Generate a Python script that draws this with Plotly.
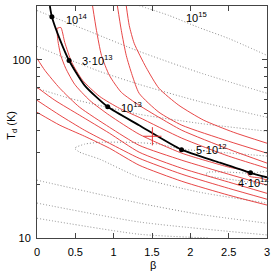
import numpy as np
import plotly.graph_objects as go

# ---- black best-fit curve (beta, T) ----
blk_b = [0.168, 0.194, 0.298, 0.418, 0.621, 0.922, 1.332, 1.885, 2.367, 2.785, 3.0]
blk_T = [200, 174, 130, 99, 71.8, 54.4, 42.9, 31.3, 26.6, 23.2, 21.9]

# labelled points on black curve
pt_b = [0.194, 0.418, 0.922, 1.885, 2.785]
pt_T = [174, 99, 54.4, 31.3, 23.2]

# best fit cross
best_b = [1.505]
best_T = [37.2]

# ---- red contours ----
ra_b = [1.164, 1.203, 1.268, 1.423, 1.591, 1.850, 2.173, 2.561, 3.0]
ra_T = [201, 155.6, 123.4, 90.5, 69.1, 55.5, 45.8, 39.2, 34.0]
rb_b = [1.048, 1.100, 1.164, 1.242, 1.332, 1.591, 1.889, 2.497, 3.0]
rb_T = [201, 145.8, 105.7, 81.7, 64.8, 50.7, 42.9, 34.9, 29.9]
rc_b = [0.724, 0.776, 0.841, 0.944, 1.100, 1.332, 1.591, 1.889, 2.497, 3.0]
rc_T = [201, 145.8, 105.7, 81.7, 65.6, 55.5, 47.5, 40.2, 31.5, 26.3]
rd_b = [0.259, 0.310, 0.362, 0.453, 0.595, 0.815, 1.074, 1.332, 1.889, 2.497, 2.911, 3.0]
rd_T = [149.7, 151.6, 125.0, 96.6, 76.6, 62.3, 53.4, 47.5, 36.3, 28.8, 25.3, 24.6]
re_b = [0.259, 0.272, 0.310, 0.375, 0.492, 0.686, 0.944, 1.332, 1.889, 2.497, 2.730, 2.769, 2.911, 3.0]
re_T = [149.7, 128.2, 105.7, 89.4, 72.7, 59.2, 48.8, 38.2, 29.9, 25.0, 23.7, 22.2, 21.7, 21.1]
rf_b = [0, 0.103, 0.298, 0.556, 0.944, 1.332, 1.889, 2.497, 3.0]
rf_T = [101.7, 87.1, 69.1, 54.1, 41.8, 33.1, 27.3, 22.8, 19.8]
rg_b = [0, 0.233, 0.556, 0.944, 1.332, 1.889, 2.497, 3.0]
rg_T = [70.0, 59.2, 48.8, 38.7, 30.3, 24.6, 20.6, 17.8]
rh_b = [0, 0.298, 0.621, 0.944, 1.332, 1.889, 2.497, 3.0]
rh_T = [59.2, 48.8, 40.2, 34.0, 28.0, 22.8, 19.0, 16.5]
ri_b = [0, 0.298, 0.621, 0.944, 1.332, 1.889, 2.497, 3.0]
ri_T = [50.7, 42.9, 37.2, 31.9, 25.6, 20.8, 17.4, 15.3]

# ---- gray dotted contours ----
g15_b = [1.332, 1.721, 2.109, 2.497, 3.0]
g15_T = [201, 177, 151.6, 131.6, 105.7]
g14_b = [0, 0.194, 0.686, 1.332, 2.109, 3.0]
g14_T = [188.7, 174.7, 144.0, 111.3, 84.9, 64.8]
g3e13_b = [0, 0.414, 0.815, 1.332, 2.109, 3.0]
g3e13_T = [118.7, 100.4, 86.0, 72.7, 58.4, 47.5]
g1e13_b = [0, 0.427, 0.918, 1.332, 2.109, 3.0]
g1e13_T = [69.1, 60.7, 54.1, 49.4, 44.0, 39.7]
g5e12_b = [3.0, 2.367, 1.889, 1.591, 1.203, 0.815, 0.621, 0.492, 0.556, 0.815, 1.332, 2.109, 3.0]
g5e12_T = [28.8, 30.3, 31.5, 33.6, 34.4, 34.4, 33.6, 31.9, 30.3, 27.7, 21.9, 18.1, 15.7]
g4e12_b = [3.0, 2.781, 2.497, 2.238, 2.199, 2.238, 2.329, 2.691, 3.0]
g4e12_T = [23.7, 23.1, 23.4, 23.4, 22.8, 22.2, 21.9, 20.8, 19.8]
gl1_b = [0, 1.332, 2.109, 3.0]
gl1_T = [21.1, 15.7, 13.6, 12.1]
gl2_b = [0, 1.332, 3.0]
gl2_T = [15.7, 12.3, 10.4]
gl3_b = [0, 1.332, 2.238]
gl3_T = [12.9, 10.5, 10.0]

# ---- labels ----
lab_text = ["10<sup>15</sup>", "10<sup>14</sup>", "3·10<sup>13</sup>", "10<sup>13</sup>",
            "5·10<sup>12</sup>", "4·10<sup>12</sup>"]
lab_b = [1.915, 0.35, 0.556, 1.074, 2.044, 2.60]
lab_T = [172.5, 170, 99, 54.1, 31.5, 20.6]

RED = "rgb(228,50,50)"
GRAY = "rgb(140,140,140)"

fig = go.Figure()

for bx, ty in [(g15_b, g15_T), (g14_b, g14_T), (g3e13_b, g3e13_T), (g1e13_b, g1e13_T),
               (g5e12_b, g5e12_T), (g4e12_b, g4e12_T), (gl1_b, gl1_T), (gl2_b, gl2_T),
               (gl3_b, gl3_T)]:
    fig.add_trace(go.Scatter(x=bx, y=ty, mode="lines",
                             line=dict(color=GRAY, width=1, dash="1px,2px", shape="spline", smoothing=0.6),
                             hoverinfo="skip", showlegend=False))

for bx, ty in [(ra_b, ra_T), (rb_b, rb_T), (rc_b, rc_T), (rd_b, rd_T), (re_b, re_T),
               (rf_b, rf_T), (rg_b, rg_T), (rh_b, rh_T), (ri_b, ri_T)]:
    fig.add_trace(go.Scatter(x=bx, y=ty, mode="lines",
                             line=dict(color=RED, width=0.9, shape="spline", smoothing=0.6),
                             hoverinfo="skip", showlegend=False))

fig.add_trace(go.Scatter(x=blk_b, y=blk_T, mode="lines",
                         line=dict(color="black", width=1.8, shape="spline", smoothing=0.6),
                         showlegend=False))
fig.add_trace(go.Scatter(x=pt_b, y=pt_T, mode="markers",
                         marker=dict(color="black", size=5), showlegend=False))
fig.add_trace(go.Scatter(x=best_b, y=best_T, mode="markers",
                         marker=dict(symbol="cross-thin", size=13, line=dict(color=RED, width=1)),
                         showlegend=False))

for t, bx, ty in zip(lab_text, lab_b, lab_T):
    fig.add_annotation(x=bx, y=np.log10(ty), text=t, showarrow=False,
                       xanchor="left", yanchor="middle",
                       font=dict(size=11, color="black", family="Liberation Sans"))

fig.add_annotation(x=-0.11, y=0.487, xref="paper", yref="paper", text="T<sub>d</sub> (K)",
                   textangle=-90, showarrow=False, xanchor="center", yanchor="middle",
                   font=dict(size=11, color="black"))
fig.add_annotation(x=0.506, y=-0.118, xref="paper", yref="paper", text="β",
                   showarrow=False, xanchor="center", yanchor="middle",
                   font=dict(size=11, color="black"))

fig.update_xaxes(range=[0, 3], tickvals=[0, 0.5, 1, 1.5, 2, 2.5, 3],
                 ticktext=["0", "0.5", "1", "1.5", "2", "2.5", "3"],
                 ticks="inside", ticklen=5, tickcolor="#444", showline=True, linecolor="#444",
                 linewidth=1, mirror="ticks", showgrid=False, zeroline=False,
                 ticklabelstandoff=4,
                 tickfont=dict(size=11, color="black"))
fig.update_yaxes(type="log", range=[1, np.log10(200)], tickvals=[10, 100],
                 ticktext=["10", "100"],
                 ticks="inside", ticklen=5, tickcolor="#444", showline=True, linecolor="#444",
                 linewidth=1, mirror="ticks", showgrid=False, zeroline=False,
                 minor=dict(tickvals=[20, 30, 40, 50, 60, 70, 80, 90, 200], ticks="inside",
                            ticklen=3, tickcolor="#444", showgrid=False),
                 ticklabelstandoff=3,
                 tickfont=dict(size=11, color="black"))

fig.update_layout(width=275, height=273, margin=dict(l=37, r=5, t=6, b=35),
                  plot_bgcolor="white", paper_bgcolor="white",
                  font=dict(family="Liberation Sans", size=11, color="black"))

fig.write_html("out.html")
